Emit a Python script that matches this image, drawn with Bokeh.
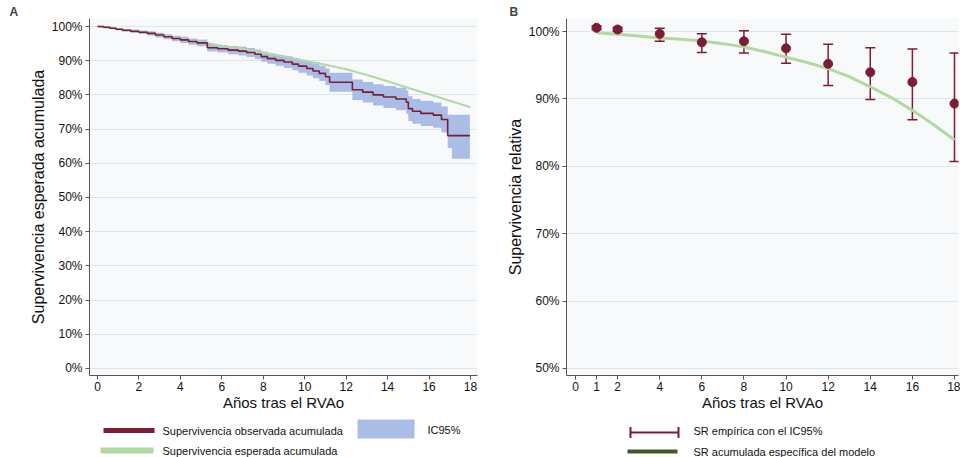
from bokeh.plotting import figure
from bokeh.layouts import row, column
from bokeh.models import (Range1d, FixedTicker, PrintfTickFormatter,
                          Whisker, TeeHead, Arrow, Label, ColumnDataSource)
from bokeh.embed import file_html
from bokeh.resources import INLINE

# ---------------- data: panel A (Kaplan-Meier observed vs expected) ----------------
km_time = [0.0, 0.3, 0.6, 0.9, 1.2, 1.6, 2.0, 2.4, 2.8, 3.2, 3.6, 4.0, 4.4, 4.8, 5.3, 5.8,
           6.3, 6.8, 7.2, 7.6, 7.9, 8.2, 8.6, 9.0, 9.4, 9.7, 10.1, 10.4, 10.7, 11.0, 11.2,
           12.3, 12.8, 13.3, 13.8, 14.4, 14.9, 15.0, 15.2, 15.6, 16.2, 16.6, 16.9, 17.1, 17.97]
km_surv = [100.0, 99.8, 99.5, 99.2, 98.9, 98.6, 98.3, 98.0, 97.5, 97.0, 96.5, 96.1, 95.6, 95.2,
           93.8, 93.5, 93.1, 92.8, 92.4, 91.9, 91.2, 90.6, 90.1, 89.6, 89.0, 88.4, 87.7, 87.0,
           86.3, 85.3, 83.7, 81.5, 80.8, 80.0, 79.4, 78.8, 77.9, 76.0, 75.2, 74.6, 74.1, 72.8,
           68.1, 68.1, 68.1]
km_lower = [100.0, 99.7, 99.3, 98.9, 98.5, 98.1, 97.8, 97.4, 96.8, 96.3, 95.7, 95.2, 94.7, 94.2,
            92.7, 92.4, 91.9, 91.5, 91.1, 90.5, 89.7, 89.1, 88.5, 87.9, 87.2, 86.5, 85.7, 84.9,
            84.1, 82.9, 80.9, 78.5, 77.8, 76.9, 76.2, 75.5, 74.5, 72.4, 71.6, 70.9, 70.4, 69.0,
            64.5, 61.3, 61.3]
km_upper = [100.0, 99.9, 99.7, 99.5, 99.3, 99.1, 98.8, 98.6, 98.2, 97.7, 97.3, 97.0, 96.5, 96.2,
            94.9, 94.6, 94.3, 94.1, 93.7, 93.3, 92.7, 92.1, 91.7, 91.3, 90.8, 90.3, 89.7, 89.1,
            88.5, 87.7, 86.5, 84.5, 83.8, 83.1, 82.6, 82.1, 81.3, 79.6, 78.8, 78.3, 77.8, 76.6,
            74.2, 74.2, 74.2]
exp_time = [0, 1, 2, 3, 4, 5, 6, 7, 8, 9, 10, 11, 12, 13, 14, 15, 16, 17, 18]
exp_surv = [100.0, 99.3, 98.5, 97.5, 96.5, 95.5, 94.4, 93.4, 92.3, 91.3, 90.0, 88.8, 87.5,
            85.8, 84.0, 82.0, 80.2, 78.3, 76.4]
a_xticks = [0, 2, 4, 6, 8, 10, 12, 14, 16, 18]
a_yticks = [0, 10, 20, 30, 40, 50, 60, 70, 80, 90, 100]
a_legend = ["Supervivencia observada acumulada", "Supervivencia esperada acumulada", "IC95%"]

# ---------------- data: panel B (relative survival) ----------------
rs_years = [1, 2, 4, 6, 8, 10, 12, 14, 16, 18]
rs_value = [100.55, 100.3, 99.65, 98.4, 98.55, 97.5, 95.2, 93.95, 92.5, 89.3]
rs_lower = [100.3, 100.0, 98.55, 96.9, 96.8, 95.3, 92.0, 89.9, 86.9, 80.7]
rs_upper = [100.8, 100.6, 100.5, 99.65, 100.1, 99.6, 98.1, 97.6, 97.4, 96.8]
model_years = [1, 2, 3, 4, 5, 6, 7, 8, 9, 10, 11, 12, 13, 14, 15, 16, 17, 18]
model_value = [99.8, 99.6, 99.35, 99.05, 98.85, 98.6, 98.2, 97.7, 97.0, 96.2, 95.4, 94.5,
               93.3, 91.8, 90.2, 88.3, 86.2, 83.9]
b_xticks = [0, 1, 2, 4, 6, 8, 10, 12, 14, 16, 18]
b_yticks = [50, 60, 70, 80, 90, 100]
b_legend = ["SR empírica con el IC95%", "SR acumulada específica del modelo"]

FONT = "Liberation Sans"
RED = "#7d1d35"
GREEN = "#b3d9a3"
BLUE = "#a9bde7"
DKGREEN = "#3e5a22"
GRID = "#dce6ef"
PLOTBG = "#f8f9fa"


def style(p, xticks, yticks, xlabel, ylabel):
    p.xgrid.visible = False
    p.ygrid.grid_line_color = GRID
    p.ygrid.grid_line_width = 1
    p.ygrid.ticker = FixedTicker(ticks=yticks)
    p.outline_line_color = None
    p.xaxis.ticker = FixedTicker(ticks=xticks)
    p.yaxis.ticker = FixedTicker(ticks=yticks)
    p.yaxis.formatter = PrintfTickFormatter(format="%d%%")
    p.xaxis.axis_label = xlabel
    p.yaxis.axis_label = ylabel
    for ax in (p.xaxis[0], p.yaxis[0]):
        ax.axis_line_color = "#555555"
        ax.major_tick_line_color = "#555555"
        ax.major_tick_out = 4
        ax.major_tick_in = 0
        ax.minor_tick_line_color = None
        ax.major_label_text_font = FONT
        ax.major_label_text_font_size = "12px"
        ax.major_label_text_color = "#111111"
        ax.major_label_standoff = 3
        ax.axis_label_text_font = FONT
        ax.axis_label_text_font_style = "normal"
        ax.axis_label_text_color = "#111111"
    p.xaxis.major_label_standoff = 2
    p.xaxis.axis_label_standoff = 0
    p.xaxis.axis_label_text_font_size = "15px"
    p.yaxis.axis_label_standoff = 2
    p.yaxis.axis_label_text_font_size = "16px"
    p.title.text_font = FONT
    p.title.text_font_size = "12px"
    p.title.text_font_style = "bold"
    p.title.standoff = 0
    p.title.align = "left"


def legend_fig(width):
    f = figure(width=width, height=43, x_range=Range1d(0, 1), y_range=Range1d(0, 1),
               x_axis_location=None, y_axis_location=None, min_border=0,
               min_border_left=0, min_border_right=0, min_border_top=0, min_border_bottom=0,
               output_backend="svg", toolbar_location=None,
               background_fill_color="white", border_fill_color="white")
    f.xgrid.visible = False
    f.ygrid.visible = False
    f.outline_line_color = None
    return f


def swatch(f, x0, x1, y, color, width, heads=False):
    kw = dict(x_start=x0, y_start=y, x_end=x1, y_end=y, start_units="screen",
              end_units="screen", line_color=color, line_width=width)
    if heads:
        kw["start"] = TeeHead(size=11, line_color=color, line_width=2)
        kw["end"] = TeeHead(size=11, line_color=color, line_width=2)
    else:
        kw["start"] = None
        kw["end"] = None
    f.add_layout(Arrow(**kw))


def text(f, x, y, s):
    f.add_layout(Label(x=x, y=y, x_units="screen", y_units="screen", text=s,
                       text_font=FONT, text_font_size="11px", text_color="#111111",
                       text_baseline="middle", text_align="left"))


# ---------------- panel A ----------------
p1 = figure(width=488, height=414, x_range=Range1d(-0.386, 18.338),
            y_range=Range1d(-2.05, 102.34),
            min_border_left=89, min_border_right=11, min_border_top=18, min_border_bottom=39,
            output_backend="svg", toolbar_location=None, title="A",
            background_fill_color=PLOTBG, border_fill_color="white")
style(p1, a_xticks, a_yticks, "Años tras el RVAo", "Supervivencia esperada acumulada")
p1.title.offset = -80

src_km = ColumnDataSource(dict(t=km_time, s=km_surv, lo=km_lower, hi=km_upper))
p1.varea_step(x="t", y1="lo", y2="hi", source=src_km, step_mode="after",
              fill_color=BLUE, fill_alpha=1.0)
p1.line(exp_time, exp_surv, line_color=GREEN, line_width=2)
p1.step(x="t", y="s", source=src_km, mode="after", line_color=RED, line_width=1.6)

# legend strip for panel A
lg1 = legend_fig(488)
swatch(lg1, 103, 154, 27, RED, 5)
swatch(lg1, 100, 153, 7, GREEN, 6)
swatch(lg1, 357, 414, 28.5, BLUE, 19)
text(lg1, 162, 27, a_legend[0])
text(lg1, 162, 7, a_legend[1])
text(lg1, 427, 28, a_legend[2])

# ---------------- panel B ----------------
p2 = figure(width=472, height=414, x_range=Range1d(-0.427, 18.19),
            y_range=Range1d(48.96, 101.93),
            min_border_left=78, min_border_right=2, min_border_top=18, min_border_bottom=39,
            output_backend="svg", toolbar_location=None, title="B",
            background_fill_color=PLOTBG, border_fill_color="white")
style(p2, b_xticks, b_yticks, "Años tras el RVAo", "Supervivencia relativa")
p2.title.offset = -57

p2.line(model_years, model_value, line_color=GREEN, line_width=3)
src_rs = ColumnDataSource(dict(x=rs_years, y=rs_value, lo=rs_lower, hi=rs_upper))
p2.add_layout(Whisker(base="x", lower="lo", upper="hi", source=src_rs, line_color=RED,
                      line_width=1.5,
                      upper_head=TeeHead(size=10, line_color=RED, line_width=1.5),
                      lower_head=TeeHead(size=10, line_color=RED, line_width=1.5)))
p2.scatter(x="x", y="y", source=src_rs, size=9, fill_color=RED, line_color=RED)

# legend strip for panel B
lg2 = legend_fig(472)
swatch(lg2, 142, 190, 25, RED, 2, heads=True)
swatch(lg2, 139, 189, 6, DKGREEN, 4)
text(lg2, 205, 27, b_legend[0])
text(lg2, 205, 6, b_legend[1])

layout = column(row(p1, p2), row(lg1, lg2))
open("out.html", "w").write(file_html(layout, INLINE))
